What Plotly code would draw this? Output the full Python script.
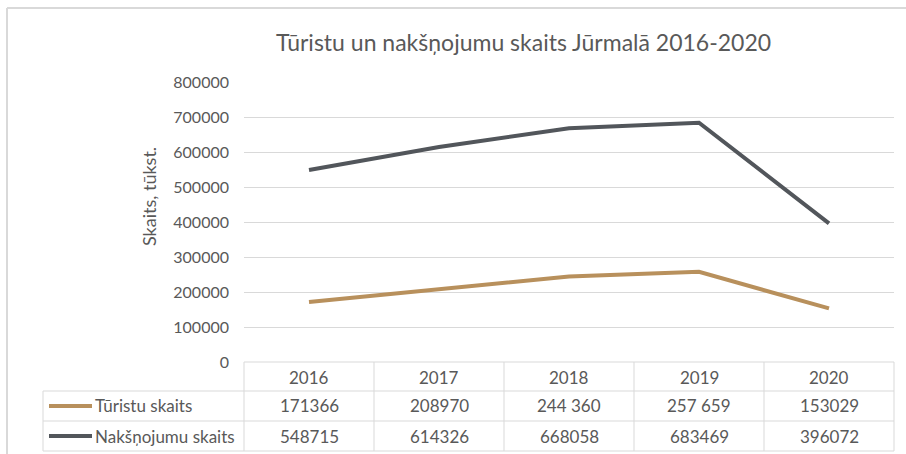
import plotly.graph_objects as go

years = ["2016", "2017", "2018", "2019", "2020"]
turisti = [171366, 208970, 244360, 257659, 153029]
naksnojumi = [548715, 614326, 668058, 683469, 396072]
turisti_labels = ["171366", "208970", "244 360", "257 659", "153029"]
naksnojumi_labels = ["548715", "614326", "668058", "683469", "396072"]
series_names = ["Tūristu skaits", "Nakšņojumu skaits"]
y_ticks = [0, 100000, 200000, 300000, 400000, 500000, 600000, 700000, 800000]

W, H = 906, 454
L, R, T, B = 244, 12, 82, 92
PW, PH = W - L - R, H - T - B

def px(xp):
    return (xp - L) / PW

def py(yp):
    return (H - B - yp) / PH

C_TUR = "#b8905c"
C_NAK = "#52565b"
GRID = "#d9d9d9"
TXT = "#595959"
FONT = "Lato"

fig = go.Figure()
fig.add_trace(go.Scatter(x=years, y=turisti, mode="lines", name=series_names[0],
                         line=dict(color=C_TUR, width=4)))
fig.add_trace(go.Scatter(x=years, y=naksnojumi, mode="lines", name=series_names[1],
                         line=dict(color=C_NAK, width=4)))

shapes = []
# outer chart border (top & left visible)
shapes.append(dict(type="line", xref="paper", yref="paper", x0=px(7), x1=px(W + 5), y0=py(8), y1=py(8),
                   line=dict(color=GRID, width=2)))
shapes.append(dict(type="line", xref="paper", yref="paper", x0=px(7), x1=px(7), y0=py(8), y1=py(H + 5),
                   line=dict(color=GRID, width=2)))
# table grid
row_lines = [362, 391, 421, 451]
n = len(years)
shapes.append(dict(type="line", xref="paper", yref="paper", x0=0, x1=1, y0=py(362), y1=py(362),
                   line=dict(color=GRID, width=1)))
for yl in row_lines[1:]:
    shapes.append(dict(type="line", xref="paper", yref="paper", x0=px(43), x1=1, y0=py(yl), y1=py(yl),
                       line=dict(color=GRID, width=1)))
for k in range(n + 1):
    shapes.append(dict(type="line", xref="paper", yref="paper", x0=k / n, x1=k / n,
                       y0=py(362), y1=py(451), line=dict(color=GRID, width=1)))
shapes.append(dict(type="line", xref="paper", yref="paper", x0=px(43), x1=px(43),
                   y0=py(391), y1=py(451), line=dict(color=GRID, width=1)))
# legend keys
row_centers = [377, 406, 436]
for c, yc in zip([C_TUR, C_NAK], row_centers[1:]):
    shapes.append(dict(type="line", xref="paper", yref="paper", x0=px(49), x1=px(92),
                       y0=py(yc), y1=py(yc), line=dict(color=c, width=4)))

cell_font = dict(family=FONT, size=17, color=TXT)
ann = []
for i, yr in enumerate(years):
    for text, yc in zip([yr, turisti_labels[i], naksnojumi_labels[i]], row_centers):
        ann.append(dict(x=i, xref="x", y=py(yc), yref="paper", text=text, showarrow=False,
                        xanchor="center", yanchor="middle", font=cell_font))
for name, yc in zip(series_names, row_centers[1:]):
    ann.append(dict(x=px(93), xref="paper", y=py(yc), yref="paper", text=name, showarrow=False,
                    xanchor="left", yanchor="middle", font=cell_font))
ann.append(dict(x=px(149), xref="paper", y=py(197), yref="paper", text="Skaits, tūkst.",
                textangle=-90, showarrow=False, xanchor="center", yanchor="middle",
                font=dict(family=FONT, size=18, color=TXT)))
ann.append(dict(x=px(523), xref="paper", y=py(42), yref="paper",
                text="Tūristu un nakšņojumu skaits Jūrmalā 2016-2020",
                showarrow=False, xanchor="center", yanchor="middle",
                font=dict(family=FONT, size=23, color=TXT)))

fig.update_layout(
    width=W, height=H,
    margin=dict(l=L, r=R, t=T, b=B),
    paper_bgcolor="white", plot_bgcolor="white",
    showlegend=False,
    shapes=shapes, annotations=ann,
    font=dict(family=FONT, color=TXT),
)
fig.update_xaxes(type="category", range=[-0.5, n - 0.5], showgrid=False, showticklabels=False,
                 showline=False, zeroline=False, ticks="")
fig.update_yaxes(range=[0, 800000], tickvals=y_ticks, ticktext=[str(v) for v in y_ticks],
                 showgrid=True, gridcolor=GRID, gridwidth=1, zeroline=False, showline=False,
                 ticks="", ticklabelstandoff=14, tickfont=dict(family=FONT, size=16, color=TXT))

fig.write_html("out.html", config={"displayModeBar": False},
               post_script="document.body.style.margin='0';")
